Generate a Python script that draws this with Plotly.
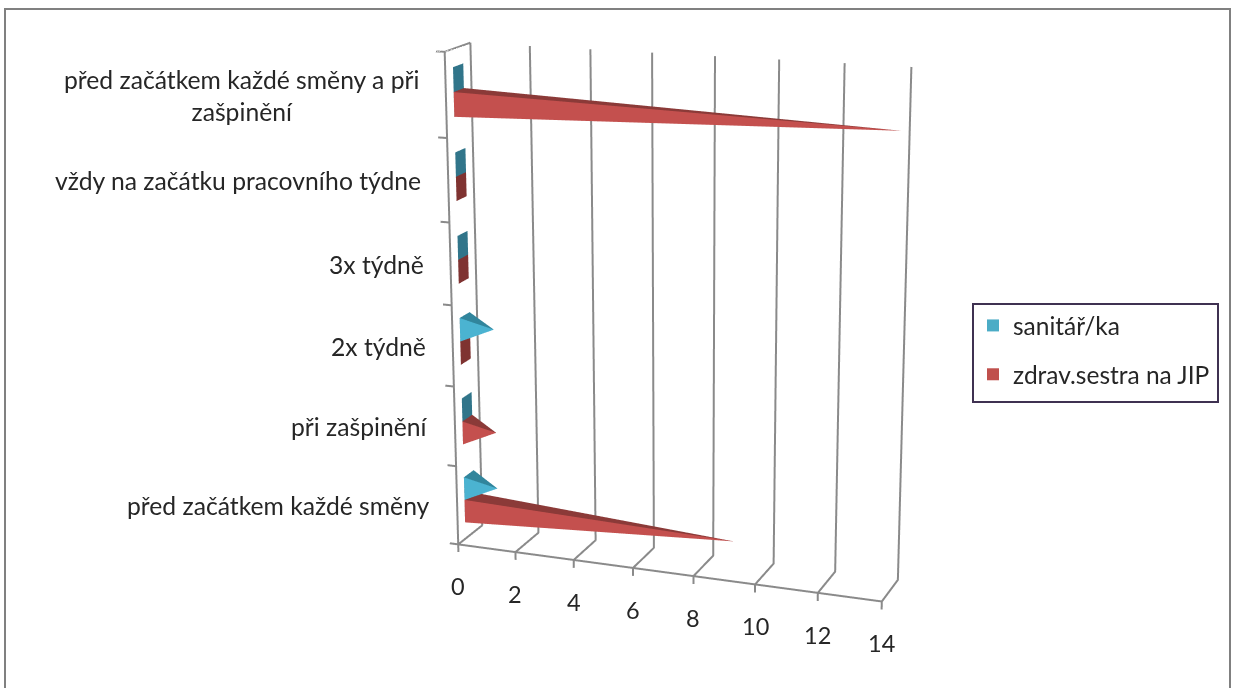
import plotly.graph_objects as go

categories = ["před začátkem každé směny a při<br>zašpinění", "vždy na začátku pracovního týdne",
              "3x týdně", "2x týdně", "při zašpinění", "před začátkem každé směny"]
sanitar = [0, 0, 0, 1, 0, 1]
sestra = [14, 0, 0, 0, 1, 9]
value_ticks = [0, 2, 4, 6, 8, 10, 12, 14]
names = ["sanitář/ka", "zdrav.sestra na JIP"]

# Scene ranges: a little room beyond the data for tick marks and end lines
XLO, XHI, ZLO, ZHI = -0.3, 14.2, -0.1, 6
W, H, OFF = 1235, 2000, 656   # tall scene gives the weak perspective; the window shows 688 px of it

# Camera fitted to the reference (for x range [-0.3, 14])
A0 = 0.88549
AX = A0*(XHI-XLO)/14.3
dx = (A0-AX)/2
EYE = dict(x=1.51214+dx, y=-4.13024, z=1.22254)
CEN = dict(x=-0.08625+dx, y=-0.04479, z=-0.04013)
UP = dict(x=-0.09344, y=0.26044, z=0.96096)
ASPECT = dict(x=AX, y=0.11554, z=1.0)

px = lambda x: x/W
py = lambda y: 1-(y+OFF)/H

LIGHT = ["#4BB3D1", "#C4504E"]
DARK = ["#31859C", "#8B3A38"]
BASE = ["#31758A", "#7F3331"]
LEG = ["#4BACC6", "#C0504D"]
Y0, Y1 = 0.3, 0.7
bands = [(0.50, 0.79), (0.21, 0.50)]

def pyramids(values, s):
    xs, ys, zs, ii, jj, kk, col = [], [], [], [], [], [], []
    for n, v in enumerate(values):
        row = len(values)-1-n
        z0, z1 = row+bands[s][0], row+bands[s][1]
        b = len(xs)
        xs += [0, 0, 0, 0, v]
        ys += [Y0, Y1, Y1, Y0, (Y0+Y1)/2]
        zs += [z0, z0, z1, z1, (z0+z1)/2]
        tris = [(0,1,2,BASE[s]), (0,2,3,BASE[s])]
        if v > 0:
            tris += [(0,3,4,LIGHT[s]), (3,2,4,DARK[s]), (2,1,4,DARK[s]), (1,0,4,LIGHT[s])]
        for a_, b_, c_, cc in tris:
            ii.append(b+a_); jj.append(b+b_); kk.append(b+c_); col.append(cc)
    return go.Mesh3d(x=xs, y=ys, z=zs, i=ii, j=jj, k=kk, facecolor=col, flatshading=True,
                     lighting=dict(ambient=1, diffuse=0, specular=0, fresnel=0, roughness=1),
                     hoverinfo="skip", showlegend=False, showscale=False)

gx, gy, gz = [], [], []
def seg(*pts):
    for q in pts:
        gx.append(q[0]); gy.append(q[1]); gz.append(q[2])
    gx.append(None); gy.append(None); gz.append(None)
for v in value_ticks:
    seg((v,0,0), (v,1,0), (v,1,6))
    seg((v,0,0), (v,0,ZLO))
for c in range(7):
    seg((0,0,c), (XLO,0,c))
seg((0,0,0), (14,0,0))
seg((0,0,0), (0,0,6), (0,1,6))

fig = go.Figure()
fig.add_trace(pyramids(sanitar, 0))
fig.add_trace(pyramids(sestra, 1))
fig.add_trace(go.Scatter3d(x=gx, y=gy, z=gz, mode="lines", line=dict(color="#8A8A8A", width=4),
                           showlegend=False, hoverinfo="skip"))
for s in range(2):
    fig.add_trace(go.Scatter3d(x=[None], y=[None], z=[None], mode="markers", name=names[s], legendgroup=names[s],
                               marker=dict(symbol="square", size=15, color=LEG[s])))

FONT = "Lato"
ink = "#262626"
ann = [dict(x=0, y=0, z=len(categories)-1-n+0.5, text=t, showarrow=False, xanchor="right", align="center",
            xshift=-25, font=dict(family=FONT, size=24.7, color=ink)) for n, t in enumerate(categories)]
ann += [dict(x=v, y=0, z=0, text=str(v), showarrow=False, yshift=-42, font=dict(family=FONT, size=23.5, color=ink))
        for v in value_ticks]
hidden = dict(showbackground=False, zeroline=False, showspikes=False, title=dict(text=""), showgrid=False,
              showline=False, ticks="", showticklabels=False)
scene = dict(
    domain=dict(x=[0, 1], y=[0, 1]),
    aspectmode="manual", aspectratio=ASPECT,
    camera=dict(eye=EYE, center=CEN, up=UP, projection=dict(type="perspective")),
    xaxis=dict(range=[XLO, XHI], **hidden), yaxis=dict(range=[0, 1], **hidden), zaxis=dict(range=[ZLO, ZHI], **hidden),
    annotations=ann,
)
fig.update_layout(
    width=W, height=H, margin=dict(l=0, r=0, t=0, b=0), paper_bgcolor="white", scene=scene,
    legend=dict(x=px(973), y=py(303), xanchor="left", yanchor="top", bgcolor="rgba(0,0,0,0)",
                font=dict(family=FONT, size=24.5, color=ink), tracegroupgap=14, itemsizing="constant"),
    shapes=[dict(type="rect", xref="paper", yref="paper", x0=px(5), x1=px(1230), y0=py(720), y1=py(9),
                 line=dict(color="#808080", width=2)),
            dict(type="rect", xref="paper", yref="paper", x0=px(973), x1=px(1218), y0=py(402), y1=py(304),
                 line=dict(color="#3F3151", width=2))],
)
fig.write_html("out.html", config=dict(displayModeBar=False), post_script="document.documentElement.style.overflow='hidden';document.body.style.margin='0';document.body.style.overflow='hidden';document.getElementById('{plot_id}').style.marginTop='-%dpx';" % OFF)
